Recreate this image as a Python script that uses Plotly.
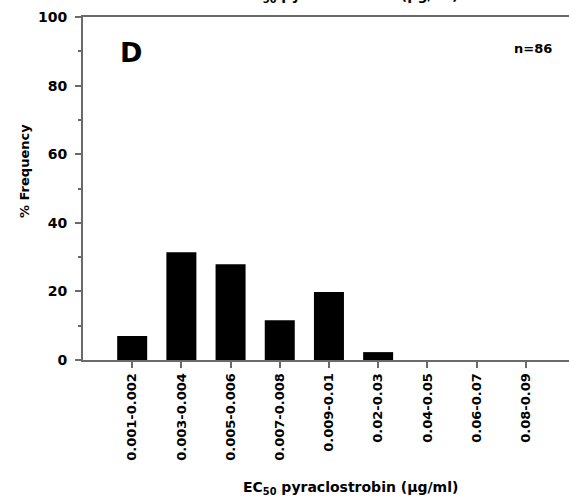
import plotly.graph_objects as go

categories = ["0.001-0.002", "0.003-0.004", "0.005-0.006", "0.007-0.008",
              "0.009-0.01", "0.02-0.03", "0.04-0.05", "0.06-0.07", "0.08-0.09"]
frequency = [7.0, 31.4, 27.9, 11.6, 19.8, 2.3, 0, 0, 0]
y_ticks = [0, 20, 40, 60, 80, 100]

FONT = "DejaVu Sans"
W, H = 569, 503
L, R, T, B = 83, 0, 17, 143

fig = go.Figure()
fig.add_trace(go.Bar(
    x=categories, y=frequency, width=0.61,
    marker=dict(color="black", line=dict(width=0)),
    showlegend=False,
))

axis_col = "#6a6a6a"
fig.update_layout(
    width=W, height=H,
    margin=dict(l=L, r=R, t=T, b=B, pad=0, autoexpand=False),
    plot_bgcolor="white", paper_bgcolor="white",
    font=dict(family=FONT, color="black", size=13),
    xaxis=dict(
        type="category", range=[-1.0, 8.88], automargin=False,
        showline=True, linecolor=axis_col, linewidth=2, mirror=True,
        ticks="outside", ticklen=6, tickcolor=axis_col, tickwidth=1.5,
        tickangle=-90, showgrid=False, zeroline=False, ticklabelstandoff=0,
        tickfont=dict(family=FONT, size=13, color="black", weight="bold"),
    ),
    yaxis=dict(
        range=[0, 100], tickvals=y_ticks, automargin=False,
        showline=True, linecolor=axis_col, linewidth=2,
        ticks="outside", ticklen=6, tickcolor=axis_col, tickwidth=1.5,
        minor=dict(dtick=10, ticks="outside", ticklen=3, tickcolor=axis_col, tickwidth=1.5),
        showgrid=False, zeroline=False, ticklabelstandoff=5,
        tickfont=dict(family=FONT, size=14, color="black", weight="bold"),
    ),
)

ph = H - T - B
pw = W - L - R

def px_x(x):
    return (x - L) / pw

def px_y(y):
    return (H - B - y) / ph

def note(text, x, y, size, angle=0):
    fig.add_annotation(text="<b>" + text + "</b>", xref="paper", yref="paper",
                       x=px_x(x), y=px_y(y), xanchor="center", yanchor="middle",
                       textangle=angle, showarrow=False,
                       font=dict(family=FONT, size=size, color="black"))

title_txt = "EC<sub>50</sub> pyraclostrobin (µg/ml)"
note(title_txt, 350, 488, 14)
note(title_txt, 350, -4, 14)
note("% Frequency", 24, 171, 13, -90)
note("D", 131, 52.5, 27)
note("n=86", 533, 48, 13)

fig.write_html("out.html",
               config={"displayModeBar": False},
               post_script="document.body.style.margin='0';document.body.style.padding='0';")
